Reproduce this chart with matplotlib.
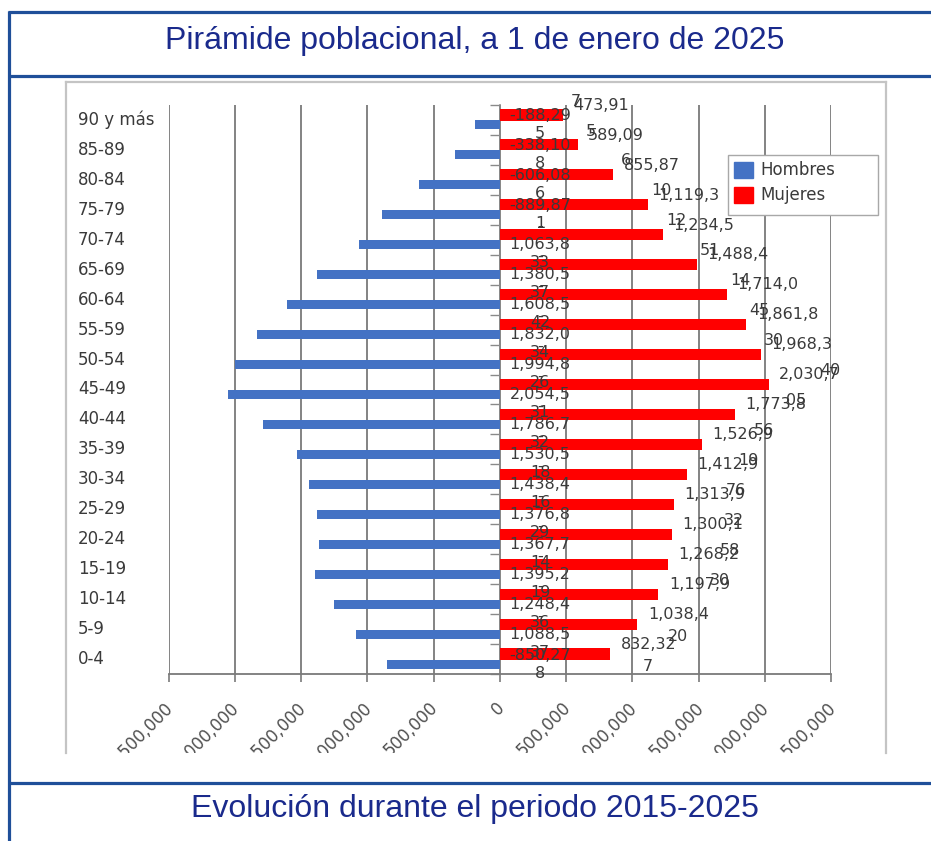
import matplotlib
matplotlib.use('Agg')
import matplotlib.pyplot as plt
from matplotlib.lines import Line2D
from matplotlib.patches import Patch, Rectangle
from matplotlib.transforms import Bbox, ScaledTranslation
import numpy as np

# ---------------- data ----------------
age_groups = ['0-4', '5-9', '10-14', '15-19', '20-24', '25-29', '30-34', '35-39',
              '40-44', '45-49', '50-54', '55-59', '60-64', '65-69', '70-74',
              '75-79', '80-84', '85-89', '90 y más']
hombres = [850278, 1088537, 1248436, 1395219, 1367714, 1376829, 1438416, 1530518,
           1786732, 2054531, 1994826, 1832034, 1608542, 1380537, 1063833,
           889871, 606086, 338108, 188295]
mujeres = [832327, 1038420, 1197930, 1268258, 1300132, 1313976, 1412919, 1526956,
           1773805, 2030740, 1968330, 1861845, 1714014, 1488451, 1234512,
           1119310, 855876, 589095, 473917]
tick_values = [-2500000, -2000000, -1500000, -1000000, -500000, 0,
               500000, 1000000, 1500000, 2000000, 2500000]
tick_labels = ['2,500,000', '2,000,000', '1,500,000', '1,000,000', '500,000', '0',
               '500,000', '1,000,000', '1,500,000', '2,000,000', '2,500,000']
series_names = ['Hombres', 'Mujeres']
title_top = 'Pirámide poblacional, a 1 de enero de 2025'
title_bottom = 'Evolución durante el periodo 2015-2025'

# ---------------- layout ----------------
W, H, DPI = 931, 841, 100
fig = plt.figure(figsize=(W / DPI, H / DPI), dpi=DPI)
fig.patch.set_facecolor('white')


def fx(px):
    return px / W


def fy(py):
    return 1 - py / H


# table frame (blue)
blue_line = '#1f4f99'
for (x0, y0, x1, y1) in [(8, 12, 931, 12), (8, 76, 931, 76), (8, 783, 931, 783), (9, 11, 9, 841)]:
    fig.add_artist(Line2D([fx(x0), fx(x1)], [fy(y0), fy(y1)], color=blue_line, lw=2.3,
                          solid_capstyle='butt'))

# chart image frame (grey, open at bottom)
for (x0, y0, x1, y1) in [(66, 82, 886, 82), (66, 82, 66, 753), (886, 82, 886, 753)]:
    fig.add_artist(Line2D([fx(x0), fx(x1)], [fy(y0), fy(y1)], color='#c4c4c4', lw=1.6))

title_kw = dict(ha='center', va='baseline', fontsize=23, color='#1a2a8c',
                family=['Liberation Sans', 'DejaVu Sans'])
fig.text(fx(475), fy(49), title_top, **title_kw)
fig.text(fx(475), fy(817), title_bottom, **title_kw)

# ---------------- chart ----------------
ax = fig.add_axes([fx(168.5), fy(674), fx(831) - fx(168.5), fy(105) - fy(674)])
ax.set_facecolor('none')
y = np.arange(len(age_groups))
col_h = '#4472c4'
col_m = '#ff0000'
ax.barh(y - 0.167, [-v for v in hombres], height=0.30, color=col_h, zorder=3)
ax.barh(y + 0.167, mujeres, height=0.37, color=col_m, zorder=3)

ax.set_xlim(tick_values[0], tick_values[-1])
ax.set_ylim(-0.5, len(age_groups) - 0.5)
ax.set_xticks(tick_values)
ax.grid(axis='x', color='#7a7a7a', lw=1.3, zorder=1)
ax.tick_params(axis='x', direction='out', length=6, width=1.2, color='#7a7a7a',
               labelbottom=False)
ax.set_yticks(np.arange(-0.5, len(age_groups), 1))
ax.tick_params(axis='y', direction='out', length=7, width=1.0, color='#8a8a8a',
               labelleft=False)
for s in ['top', 'right']:
    ax.spines[s].set_visible(False)
ax.spines['left'].set_position(('data', 0))
ax.spines['left'].set_color('#8a8a8a')
ax.spines['left'].set_linewidth(1.2)
ax.spines['bottom'].set_color('#7a7a7a')
ax.spines['bottom'].set_linewidth(1.3)

txt_col = '#3a3a3a'
# category labels
for yi, lab in zip(y, age_groups):
    ax.text(-0.1366, yi, lab, transform=ax.get_yaxis_transform(), ha='left', va='center',
            fontsize=12, color=txt_col, family='DejaVu Sans')

# x tick labels (rotated, clipped at bottom of the chart image)
clipbox = Bbox.from_extents(0, H - 753, W, H)
off = ScaledTranslation(2 / DPI, -31 / DPI, fig.dpi_scale_trans)
for v, s in zip(tick_values, tick_labels):
    t = fig.text(v, 0, s, transform=ax.get_xaxis_transform() + off, rotation=45,
                 rotation_mode='anchor', ha='right', va='center', fontsize=12,
                 color='#505050', family='DejaVu Sans')
    t.set_clip_on(True)
    t.set_clip_box(clipbox)


# data labels (wrapped and overlapping, as in the original Excel export)
def wrap_h(v):
    s = '-{:,}'.format(v)
    if v >= 1000000:
        return '\n'.join(['-', s[1:8], s[8:]])
    return '\n'.join([s[:7], s[7:]])


def split_m(v):
    s = '{:,}'.format(v)
    n = 7 if v >= 1000000 else 6
    return s[:n], s[n:]


lab_kw = dict(fontsize=11.5, color=txt_col, zorder=6, annotation_clip=False)
for yi, v in zip(y, hombres):
    ax.annotate(wrap_h(v), xy=(0, yi - 0.167), xytext=(29, 0), textcoords='offset points',
                ha='center', va='center', multialignment='center', linespacing=1.25, **lab_kw)

for i, (yi, v) in enumerate(zip(y, mujeres)):
    first, rest = split_m(v)
    main = ax.annotate(first, xy=(v, yi + 0.167), xytext=(7.5, 7), textcoords='offset points',
                       ha='left', va='center', **lab_kw)
    if i < 2:      # second line shown below
        ax.annotate(rest, xy=(0.5, 0), xycoords=main, xytext=(0, -5),
                    textcoords='offset points', ha='center', va='top', **lab_kw)
    elif i < 10:   # second line overlapping the end of the first
        ax.annotate(rest, xy=(1, 0.5), xycoords=main, xytext=(-7, 3),
                    textcoords='offset points', ha='center', va='center', **lab_kw)
    else:          # second line overlapping the start of the first
        ax.annotate(rest, xy=(0, 0.5), xycoords=main, xytext=(2, 3),
                    textcoords='offset points', ha='center', va='center', **lab_kw)

# legend (white box reaching beyond the plot area)
fig.add_artist(Rectangle((fx(728), fy(215)), fx(878) - fx(728), fy(155) - fy(215),
                         transform=fig.transFigure, facecolor='white', edgecolor='#a8a8a8',
                         lw=1.0, zorder=9))
handles = [Patch(color=col_h), Patch(color=col_m)]
leg = fig.legend(handles, series_names, loc='upper left', bbox_to_anchor=(fx(731), fy(158)),
                 frameon=False, borderpad=0.2, handlelength=1.1,
                 handleheight=1.1, handletextpad=0.45, labelspacing=0.42, fontsize=12,
                 borderaxespad=0)
leg.set_zorder(10)
for t in leg.get_texts():
    t.set_color(txt_col)

fig.savefig('out.png', dpi=DPI)
